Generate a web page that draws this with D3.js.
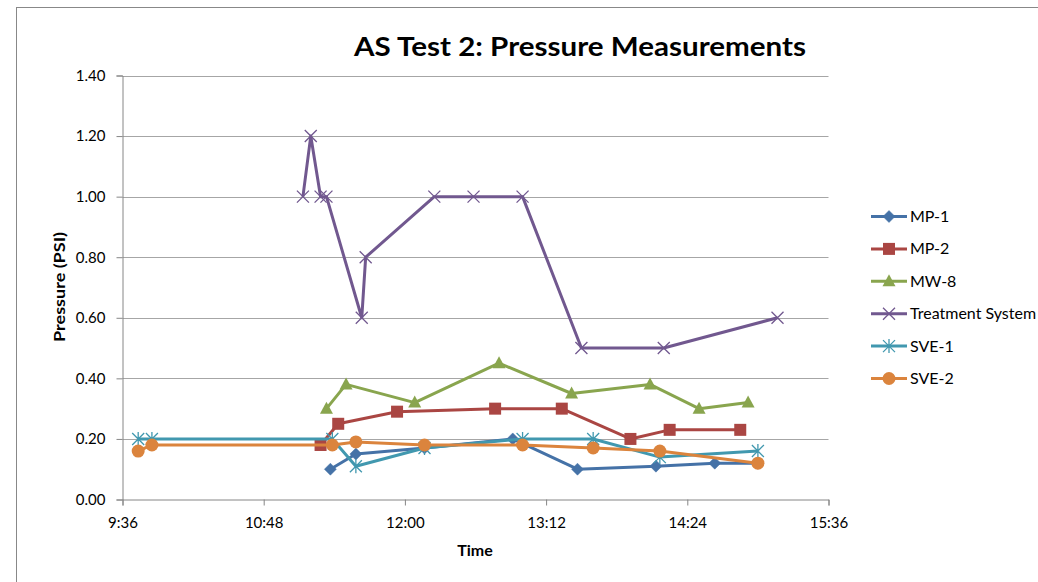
<!DOCTYPE html>
<html>
<head>
<meta charset="utf-8">
<script src="https://cdn.jsdelivr.net/npm/d3@7"></script>
<style>
  html, body { margin: 0; padding: 0; background: #fff; }
  svg { display: block; }
  text { font-family: Lato, "Liberation Sans", sans-serif; fill: #000; }
</style>
</head>
<body>
<svg id="chart" width="1038" height="582"></svg>
<script>
// ---- data ----
const title = "AS Test 2: Pressure Measurements";
const xTickLabels = ["9:36", "10:48", "12:00", "13:12", "14:24", "15:36"];
const yTickValues = [0, 0.2, 0.4, 0.6, 0.8, 1.0, 1.2, 1.4];

const mp1Times  = ["11:22", "11:35", "12:10", "12:55", "13:28", "14:08", "14:38", "15:00"];
const mp1Values = [0.10, 0.15, 0.17, 0.20, 0.10, 0.11, 0.12, 0.12];

const mp2Times  = ["11:17", "11:26", "11:56", "12:46", "13:20", "13:55", "14:15", "14:51"];
const mp2Values = [0.18, 0.25, 0.29, 0.30, 0.30, 0.20, 0.23, 0.23];

const mw8Times  = ["11:20", "11:30", "12:05", "12:48", "13:25", "14:05", "14:30", "14:55"];
const mw8Values = [0.30, 0.38, 0.32, 0.45, 0.35, 0.38, 0.30, 0.32];

const tsTimes   = ["11:08", "11:12", "11:17", "11:20", "11:38", "11:40", "12:15", "12:35", "13:00", "13:30", "14:12", "15:10"];
const tsValues  = [1.00, 1.20, 1.00, 1.00, 0.60, 0.80, 1.00, 1.00, 1.00, 0.50, 0.50, 0.60];

const sve1Times  = ["9:44", "9:51", "11:23", "11:35", "12:10", "13:00", "13:36", "14:10", "15:00"];
const sve1Values = [0.20, 0.20, 0.20, 0.11, 0.17, 0.20, 0.20, 0.14, 0.16];

const sve2Times  = ["9:44", "9:51", "11:23", "11:35", "12:10", "13:00", "13:36", "14:10", "15:00"];
const sve2Values = [0.16, 0.18, 0.18, 0.19, 0.18, 0.18, 0.17, 0.16, 0.12];

const seriesNames = ["MP-1", "MP-2", "MW-8", "Treatment System", "SVE-1", "SVE-2"];

// ---- helpers ----
const toMin = s => { const [h, m] = s.split(":").map(Number); return h * 60 + m; };

const series = [
  { name: seriesNames[0], times: mp1Times,  values: mp1Values,  color: "#4572A7", marker: "diamond" },
  { name: seriesNames[1], times: mp2Times,  values: mp2Values,  color: "#AA4643", marker: "square" },
  { name: seriesNames[2], times: mw8Times,  values: mw8Values,  color: "#89A54E", marker: "triangle" },
  { name: seriesNames[3], times: tsTimes,   values: tsValues,   color: "#71588F", marker: "x" },
  { name: seriesNames[4], times: sve1Times, values: sve1Values, color: "#4198AF", marker: "star" },
  { name: seriesNames[5], times: sve2Times, values: sve2Values, color: "#DB843D", marker: "circle" }
].map(s => ({ ...s, points: s.times.map((t, i) => ({ x: toMin(t), y: s.values[i] })) }));

// ---- layout ----
const svg = d3.select("#chart");
const plot = { left: 122.5, right: 828.5, top: 75.5, bottom: 499.5 };

// outer chart frame
svg.append("rect")
  .attr("x", 16.5).attr("y", 7.5)
  .attr("width", 1100).attr("height", 700)
  .attr("fill", "none").attr("stroke", "#888").attr("stroke-width", 1);

const x = d3.scaleLinear()
  .domain([toMin(xTickLabels[0]), toMin(xTickLabels[xTickLabels.length - 1])])
  .range([plot.left, plot.right]);
const y = d3.scaleLinear().domain([0, 1.4]).range([plot.bottom, plot.top]);

// gridlines
svg.append("g").selectAll("line")
  .data(yTickValues.filter(v => v > 0))
  .join("line")
  .attr("x1", plot.left).attr("x2", plot.right)
  .attr("y1", d => Math.round(y(d)) + 0.5).attr("y2", d => Math.round(y(d)) + 0.5)
  .attr("stroke", "#a6a6a6").attr("stroke-width", 1);

// y axis
const yAxis = d3.axisLeft(y).tickValues(yTickValues).tickFormat(d3.format(".2f")).tickSize(6).tickPadding(11);
const gy = svg.append("g").attr("transform", `translate(${plot.left},0)`).call(yAxis);
gy.select(".domain").attr("stroke", "#868686");
gy.selectAll(".tick line").attr("stroke", "#868686");
gy.selectAll(".tick text").style("font-size", "15px").style("font-family", "Lato, sans-serif").attr("fill", "#000");

// x axis
const xAxis = d3.axisBottom(x).tickValues(xTickLabels.map(toMin))
  .tickFormat((d, i) => xTickLabels[i]).tickSize(6).tickPadding(12);
const gx = svg.append("g").attr("transform", `translate(0,${plot.bottom})`).call(xAxis);
gx.select(".domain").attr("stroke", "#868686");
gx.selectAll(".tick line").attr("stroke", "#868686");
gx.selectAll(".tick text").style("font-size", "15px").style("font-family", "Lato, sans-serif").attr("fill", "#000");

// titles
svg.append("text").attr("x", 580).attr("y", 56).attr("text-anchor", "middle")
  .attr("textLength", 452).attr("lengthAdjust", "spacingAndGlyphs")
  .style("font-size", "26px").style("font-weight", "bold").text(title);
svg.append("text").attr("x", 475).attr("y", 556).attr("text-anchor", "middle")
  .style("font-size", "16px").style("font-weight", "bold").text("Time");
svg.append("text").attr("transform", "translate(65,287) rotate(-90)").attr("text-anchor", "middle")
  .attr("textLength", 110).attr("lengthAdjust", "spacingAndGlyphs")
  .style("font-size", "16px").style("font-weight", "bold").text("Pressure (PSI)");

// marker drawing
function drawMarker(g, type, color) {
  switch (type) {
    case "diamond":
      g.append("path").attr("d", "M0,-6L6,0L0,6L-6,0Z").attr("fill", color).attr("stroke", color).attr("stroke-width", 0.5);
      break;
    case "square":
      g.append("rect").attr("x", -6).attr("y", -6).attr("width", 12).attr("height", 12).attr("fill", color);
      break;
    case "triangle":
      g.append("path").attr("d", "M0,-7L6.5,5L-6.5,5Z").attr("fill", color);
      break;
    case "x":
      g.append("path").attr("d", "M-6,-6L6,6M-6,6L6,-6").attr("stroke", color).attr("stroke-width", 1.3).attr("fill", "none");
      break;
    case "star":
      g.append("path").attr("d", "M-6,-6L6,6M-6,6L6,-6M0,-7L0,7").attr("stroke", color).attr("stroke-width", 1.3).attr("fill", "none");
      break;
    case "circle":
      g.append("circle").attr("r", 6.5).attr("fill", color);
      break;
  }
}

const line = d3.line().x(d => x(d.x)).y(d => y(d.y));

series.forEach(s => {
  const g = svg.append("g");
  g.append("path").attr("d", line(s.points)).attr("fill", "none")
    .attr("stroke", s.color).attr("stroke-width", 3).attr("stroke-linejoin", "round");
  g.selectAll("g.m").data(s.points).join("g").attr("class", "m")
    .attr("transform", d => `translate(${x(d.x)},${y(d.y)})`)
    .each(function () { drawMarker(d3.select(this), s.marker, s.color); });
});

// legend
const legend = svg.append("g");
series.forEach((s, i) => {
  const cy = 216.5 + i * 32.4;
  const g = legend.append("g");
  g.append("line").attr("x1", 871).attr("x2", 907).attr("y1", cy).attr("y2", cy)
    .attr("stroke", s.color).attr("stroke-width", 3);
  const m = g.append("g").attr("transform", `translate(889,${cy})`);
  drawMarker(m, s.marker, s.color);
  g.append("text").attr("x", 910).attr("y", cy + 5.5).style("font-size", "16px").text(s.name);
});
</script>
</body>
</html>
